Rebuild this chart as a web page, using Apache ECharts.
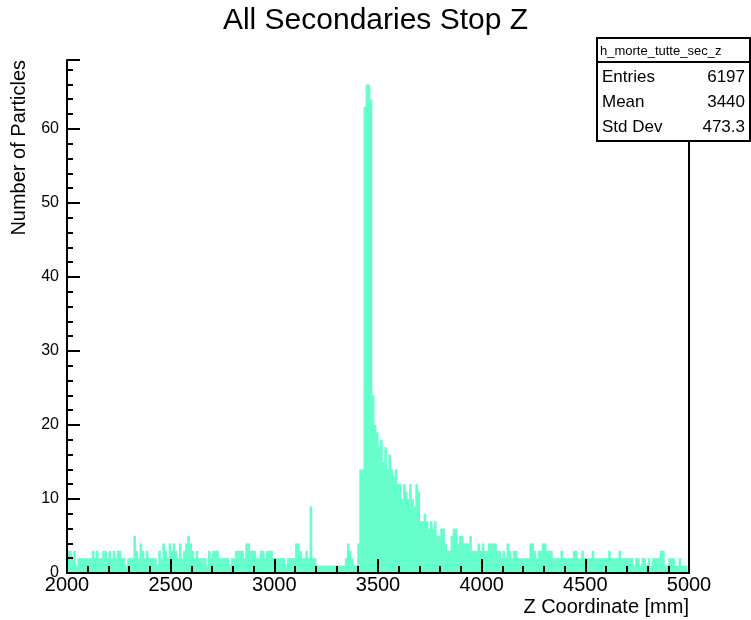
<!DOCTYPE html>
<html>
<head>
<meta charset="utf-8">
<title>All Secondaries Stop Z</title>
<script src="https://cdn.jsdelivr.net/npm/echarts@6/dist/echarts.min.js"></script>
<style>
  html, body { margin: 0; padding: 0; background: #fff; }
  #chart { width: 751px; height: 620px; }
</style>
</head>
<body>
<div id="chart"></div>
<script>
// histogram: 300 bins of 10 mm from 2000 to 5000
var binStart = 2000;
var binWidth = 10;
var counts = [
  3,3,2,3,1,2,2,2,2,2,       // 2000
  2,2,3,2,3,2,2,3,3,2,       // 2100
  3,2,3,2,3,3,2,2,1,2,       // 2200
  2,2,5,3,2,4,3,2,3,2,       // 2300
  2,2,2,1,3,2,4,3,2,4,       // 2400
  3,4,3,2,4,2,3,4,5,4,       // 2500
  3,2,3,2,2,2,2,1,3,2,       // 2600
  3,3,3,2,2,2,2,2,1,2,       // 2700
  2,3,3,3,3,2,4,4,3,3,       // 2800
  3,2,2,3,3,2,3,3,3,2,       // 2900
  2,2,2,2,2,1,2,2,2,2,       // 3000
  4,4,3,2,2,3,2,9,2,2,       // 3100
  1,1,1,1,1,1,1,1,1,1,       // 3200
  1,1,1,1,2,4,3,2,1,1,       // 3300
  4,14,14,63,66,66,64,24,20,19,  // 3400
  17,18,15,17,14,16,14,13,14,12, // 3500
  12,10,12,11,10,12,10,9,12,11,  // 3600
  7,7,8,7,6,7,6,7,5,5,       // 3700
  6,6,4,3,3,5,6,6,4,5,       // 3800
  5,4,4,4,5,3,3,3,4,3,       // 3900
  4,3,3,4,4,4,4,3,3,2,       // 4000
  3,2,4,3,2,3,3,2,2,2,       // 4100
  2,2,2,4,4,3,2,3,3,4,       // 4200
  4,3,3,3,2,2,2,2,3,2,       // 4300
  2,2,2,2,3,3,2,2,3,2,       // 4400
  2,2,2,3,2,2,2,2,2,2,       // 4500
  2,3,2,2,2,2,3,2,2,2,       // 4600
  2,2,2,1,2,2,1,2,2,1,       // 4700
  2,1,2,2,2,2,3,3,1,1,       // 4800
  2,2,2,1,1,2,1,1,1,0        // 4900
];

var statLabels = ['Entries', 'Mean', 'Std Dev'];
var statValues = ['6197', '3440', '473.3'];
var histName = 'h_morte_tutte_sec_z';

var fillColor = '#66ffcc';
var fontFamily = 'Liberation Sans, Arial, sans-serif';

var binData = [];
for (var i = 0; i < counts.length; i++) {
    var x0 = binStart + i * binWidth;
    binData.push([x0, x0 + binWidth, counts[i]]);
}

function renderBin(params, api) {
    var top = api.coord([api.value(0), api.value(2)]);
    var bottom = api.coord([api.value(1), 0]);
    return {
        type: 'rect',
        shape: {
            x: top[0],
            y: top[1],
            width: bottom[0] - top[0] + 0.6,
            height: bottom[1] - top[1]
        },
        style: { fill: fillColor }
    };
}

var statGraphics = [
    {
        type: 'rect', left: 596, top: 37, z: 100,
        shape: { width: 153, height: 103 },
        style: { fill: '#fff', stroke: '#000', lineWidth: 2 }
    },
    {
        type: 'line', z: 101,
        shape: { x1: 596, y1: 62, x2: 749, y2: 62 },
        style: { stroke: '#000', lineWidth: 2 }
    },
    {
        type: 'text', left: 600, top: 45, z: 101,
        style: { text: histName, font: '13px ' + fontFamily, fill: '#000' }
    }
];
for (var k = 0; k < statLabels.length; k++) {
    statGraphics.push({
        type: 'text', left: 602, top: 69 + k * 25, z: 101,
        style: { text: statLabels[k], font: '17px ' + fontFamily, fill: '#000' }
    });
    statGraphics.push({
        type: 'text', right: 6, top: 69 + k * 25, z: 101,
        style: { text: statValues[k], font: '17px ' + fontFamily, fill: '#000', textAlign: 'right' }
    });
}

var chart = echarts.init(document.getElementById('chart'));
chart.setOption({
    backgroundColor: '#fff',
    animation: false,
    title: {
        text: 'All Secondaries Stop Z',
        left: 'center',
        top: 1,
        textStyle: { fontFamily: fontFamily, fontSize: 30, fontWeight: 'normal', color: '#000' }
    },
    grid: { left: 67, right: 62, top: 60, bottom: 47, containLabel: false },
    xAxis: [{
        type: 'value',
        min: 2000,
        max: 5000,
        interval: 500,
        z: 10,
        name: 'Z Coordinate [mm]',
        nameLocation: 'end',
        nameGap: 0,
        nameTextStyle: {
            fontFamily: fontFamily, fontSize: 20, color: '#000',
            align: 'right', verticalAlign: 'top', padding: [24, 0, 0, 0]
        },
        axisLine: { show: true, lineStyle: { color: '#000', width: 2 } },
        axisTick: { show: true, inside: true, length: 14, lineStyle: { color: '#000', width: 2 } },
        minorTick: { show: true, splitNumber: 5, length: 7, lineStyle: { color: '#000', width: 2 } },
        axisLabel: {
            fontFamily: fontFamily, fontSize: 20, color: '#000', margin: 2,
            formatter: function (v) { return String(v); }
        },
        splitLine: { show: false }
    }, {
        type: 'value',
        position: 'top',
        min: 2000,
        max: 5000,
        z: 10,
        axisLine: { show: true, lineStyle: { color: '#000', width: 2 } },
        axisTick: { show: false },
        axisLabel: { show: false },
        splitLine: { show: false }
    }],
    yAxis: [{
        type: 'value',
        min: 0,
        max: 69.3,
        interval: 10,
        z: 10,
        name: 'Number of Particles',
        nameLocation: 'end',
        nameRotate: 90,
        nameGap: 0,
        nameTextStyle: {
            fontFamily: fontFamily, fontSize: 20, color: '#000',
            align: 'right', verticalAlign: 'bottom', padding: [0, 0, 38, 0]
        },
        axisLine: { show: true, lineStyle: { color: '#000', width: 2 } },
        axisTick: { show: true, inside: true, length: 13, lineStyle: { color: '#000', width: 2 } },
        minorTick: { show: true, splitNumber: 5, length: 6, lineStyle: { color: '#000', width: 2 } },
        axisLabel: { fontFamily: fontFamily, fontSize: 16, color: '#000', margin: 8, showMaxLabel: false },
        splitLine: { show: false }
    }, {
        type: 'value',
        position: 'right',
        min: 0,
        max: 69.3,
        z: 10,
        axisLine: { show: true, lineStyle: { color: '#000', width: 2 } },
        axisTick: { show: false },
        axisLabel: { show: false },
        splitLine: { show: false }
    }],
    series: [{
        type: 'custom',
        name: histName,
        xAxisIndex: 0,
        yAxisIndex: 0,
        clip: true,
        renderItem: renderBin,
        encode: { x: [0, 1], y: 2 },
        data: binData
    }],
    graphic: statGraphics
});
</script>
</body>
</html>
